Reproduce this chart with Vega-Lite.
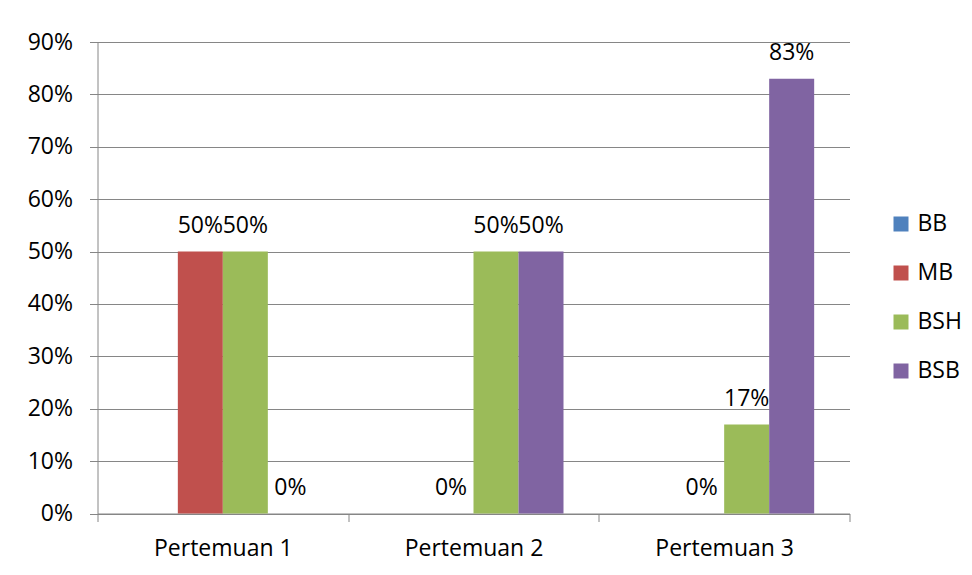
{
  "$schema": "https://vega.github.io/schema/vega-lite/v6.json",
  "autosize": {"type": "none"},
  "padding": {"left": 97.5, "top": 42, "right": 122.5, "bottom": 61.5},
  "width": 752,
  "height": 471.5,
  "background": "white",
  "data": {
    "values": [
      {"pertemuan": "Pertemuan 1", "kategori": "BB", "nilai": null},
      {"pertemuan": "Pertemuan 1", "kategori": "MB", "nilai": 0.5},
      {"pertemuan": "Pertemuan 1", "kategori": "BSH", "nilai": 0.5},
      {"pertemuan": "Pertemuan 1", "kategori": "BSB", "nilai": 0},
      {"pertemuan": "Pertemuan 2", "kategori": "BB", "nilai": null},
      {"pertemuan": "Pertemuan 2", "kategori": "MB", "nilai": 0},
      {"pertemuan": "Pertemuan 2", "kategori": "BSH", "nilai": 0.5},
      {"pertemuan": "Pertemuan 2", "kategori": "BSB", "nilai": 0.5},
      {"pertemuan": "Pertemuan 3", "kategori": "BB", "nilai": null},
      {"pertemuan": "Pertemuan 3", "kategori": "MB", "nilai": 0},
      {"pertemuan": "Pertemuan 3", "kategori": "BSH", "nilai": 0.17},
      {"pertemuan": "Pertemuan 3", "kategori": "BSB", "nilai": 0.83}
    ]
  },
  "encoding": {
    "x": {
      "field": "pertemuan",
      "type": "nominal",
      "scale": {"paddingInner": 0, "paddingOuter": 0},
      "axis": {
        "title": null,
        "labelAngle": 0,
        "labelFont": "Open Sans",
        "labelFontSize": 23,
        "labelColor": "#000000",
        "labelPadding": 16,
        "tickBand": "extent",
        "tickSize": 8,
        "tickColor": "#868686",
        "domainColor": "#868686",
        "grid": false
      }
    },
    "xOffset": {
      "field": "kategori",
      "type": "nominal",
      "scale": {"domain": ["BB", "MB", "BSH", "BSB"], "paddingInner": 0, "paddingOuter": 0.785}
    },
    "y": {
      "field": "nilai",
      "type": "quantitative",
      "scale": {"domain": [0, 0.9], "nice": false},
      "axis": {
        "title": null,
        "format": ".0%",
        "values": [0, 0.1, 0.2, 0.3, 0.4, 0.5, 0.6, 0.7, 0.8, 0.9],
        "labelFont": "Open Sans",
        "labelFontSize": 23,
        "labelColor": "#000000",
        "labelPadding": 17,
        "tickSize": 8,
        "tickColor": "#868686",
        "domainColor": "#868686",
        "gridColor": "#868686",
        "gridOpacity": 1
      }
    }
  },
  "layer": [
    {
      "mark": {"type": "bar"},
      "encoding": {
        "color": {
          "field": "kategori",
          "type": "nominal",
          "scale": {"domain": ["BB", "MB", "BSH", "BSB"], "range": ["#4F81BD", "#C0504D", "#9BBB59", "#8064A2"]},
          "legend": {
            "title": null,
            "orient": "none",
            "legendX": 792,
            "legendY": 170.5,
            "symbolType": "square",
            "symbolSize": 225,
            "symbolStrokeWidth": 0,
            "labelFont": "Open Sans",
            "labelFontSize": 23,
            "labelColor": "#000000",
            "labelOffset": 5,
            "rowPadding": 25
          }
        }
      }
    },
    {
      "mark": {"type": "text", "font": "Open Sans", "fontSize": 23, "color": "#000000", "baseline": "alphabetic", "dy": -18.5},
      "encoding": {
        "text": {"field": "nilai", "type": "quantitative", "format": ".0%"}
      }
    }
  ],
  "config": {
    "view": {"stroke": null}
  }
}
